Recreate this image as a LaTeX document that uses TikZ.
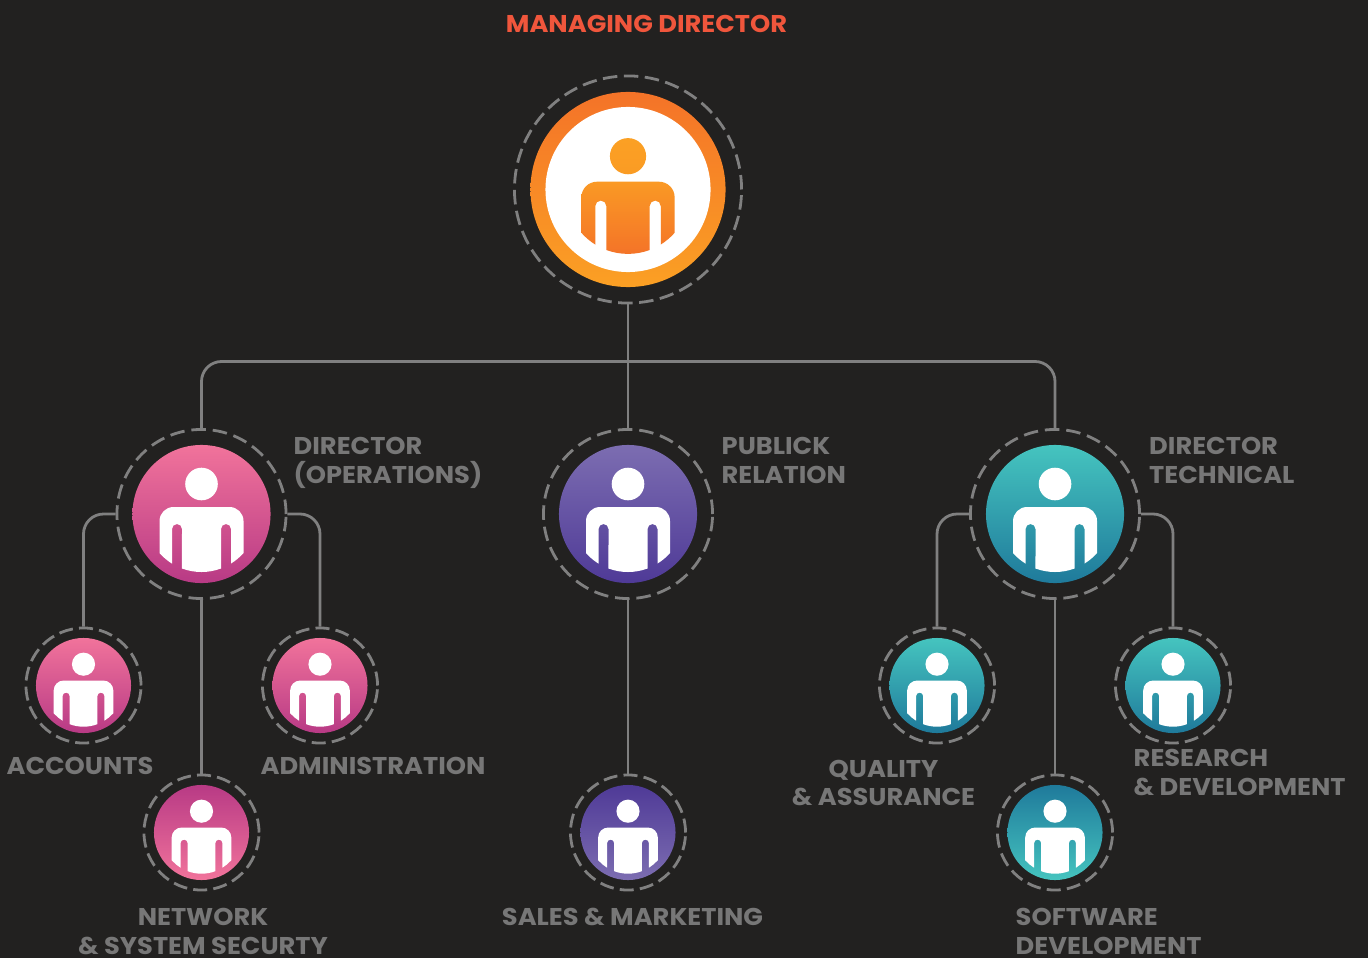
\documentclass[tikz,border=0pt]{standalone}
\usepackage{fontspec}
\setmainfont[FakeStretch=1.06]{Poppins}
\definecolor{bgdark}{HTML}{222120}
\definecolor{linkgray}{HTML}{808080}
\definecolor{labelgray}{HTML}{777777}
\definecolor{titlered}{HTML}{F0563C}
\definecolor{pinklight}{HTML}{F1739B}
\definecolor{pinkdark}{HTML}{B83A85}
\definecolor{purplelight}{HTML}{7C6DB1}
\definecolor{purpledark}{HTML}{4F3A97}
\definecolor{teallight}{HTML}{45C4BF}
\definecolor{tealdark}{HTML}{1F7A9B}
\definecolor{orangedark}{HTML}{F47328}
\definecolor{orangelight}{HTML}{FBA024}
\tikzset{
  ringbig/.style={circle,draw=linkgray,line width=0.028cm,minimum size=2.27cm,inner sep=0,dash pattern=on 0.145cm off 0.065cm},
  ringmid/.style={circle,draw=linkgray,line width=0.028cm,minimum size=1.69cm,inner sep=0,dash pattern=on 0.145cm off 0.069cm},
  ringsmall/.style={circle,draw=linkgray,line width=0.028cm,minimum size=1.15cm,inner sep=0,dash pattern=on 0.14cm off 0.062cm},
  diskmid/.style={circle,minimum size=1.38cm,inner sep=0},
  disksmall/.style={circle,minimum size=0.95cm,inner sep=0},
  link/.style={draw=linkgray,line width=0.028cm,rounded corners=0.2cm},
  lbl/.style={font=\fontsize{6.9pt}{8.1pt}\selectfont\bfseries,text=labelgray,inner sep=0,align=left},
  personhead/.style={fill=white},
  personbody/.style={fill=white},
  person/.pic={
    \path[personhead] (0,-30) circle (16.3);
    \path[personbody] (-42,39) -- (-42,7) arc[start angle=180,end angle=270,radius=14]
      -- (28,-7) arc[start angle=270,end angle=360,radius=14] -- (42,39)
      arc[start angle=41.4,end angle=58.2,radius=56] -- (29.5,15)
      arc[start angle=0,end angle=-180,radius=5] -- (19.5,54.5)
      arc[start angle=69.6,end angle=110.4,radius=56] -- (-19.5,15)
      arc[start angle=0,end angle=-180,radius=5] -- (-29.5,49.6)
      arc[start angle=121.8,end angle=138.6,radius=56] -- cycle;
  }
}
\begin{document}
\begin{tikzpicture}[x=0.01cm,y=-0.01cm]
\useasboundingbox (0,0) rectangle (1368,958);
\fill[bgdark] (0,0) rectangle (1368,958);
%managing director
\node[ringbig] (md) at (628,189.5) {};
\node[circle,minimum size=1.95cm,inner sep=0,top color=orangedark,bottom color=orangelight] (mdouter) at (md) {};
\node[circle,minimum size=1.65cm,inner sep=0,fill=white] (mdinner) at (md) {};
\pic[scale=1.11,personhead/.style={top color=orangelight,bottom color=orangelight!90!orangedark},personbody/.style={top color=orangelight!85!orangedark,bottom color=orangedark}] at (md) {person};
%directors
\node[ringmid] (dirops) at (201.5,514) {};
\node[diskmid,top color=pinklight,bottom color=pinkdark] (diropsdisk) at (dirops) {};
\pic at (dirops) {person};
\node[ringmid] (pubrel) at (628,514) {};
\node[diskmid,top color=purplelight,bottom color=purpledark] (pubreldisk) at (pubrel) {};
\pic at (pubrel) {person};
\node[ringmid] (dirtech) at (1055,514) {};
\node[diskmid,top color=teallight,bottom color=tealdark] (dirtechdisk) at (dirtech) {};
\pic at (dirtech) {person};
%left branch
\node[ringsmall] (acc) at (83.5,685.5) {};
\node[disksmall,top color=pinklight,bottom color=pinkdark] (accdisk) at (acc) {};
\pic[scale=0.71] at (acc) {person};
\node[ringsmall] (admin) at (320,685.5) {};
\node[disksmall,top color=pinklight,bottom color=pinkdark] (admindisk) at (admin) {};
\pic[scale=0.71] at (admin) {person};
\node[ringsmall] (net) at (201.5,832.5) {};
\node[disksmall,top color=pinkdark,bottom color=pinklight] (netdisk) at (net) {};
\pic[scale=0.71] at (net) {person};
%middle branch
\node[ringsmall] (sales) at (628,832.5) {};
\node[disksmall,top color=purpledark,bottom color=purplelight] (salesdisk) at (sales) {};
\pic[scale=0.71] at (sales) {person};
%right branch
\node[ringsmall] (qual) at (937,685.5) {};
\node[disksmall,top color=teallight,bottom color=tealdark] (qualdisk) at (qual) {};
\pic[scale=0.71] at (qual) {person};
\node[ringsmall] (res) at (1173,685.5) {};
\node[disksmall,top color=teallight,bottom color=tealdark] (resdisk) at (res) {};
\pic[scale=0.71] at (res) {person};
\node[ringsmall] (soft) at (1055,832.5) {};
\node[disksmall,top color=tealdark,bottom color=teallight] (softdisk) at (soft) {};
\pic[scale=0.71] at (soft) {person};
%connectors
\coordinate (bus) at (628,361.5);
\draw[link] (md.south) -- (pubrel.north);
\draw[link] (dirops.north) |- (bus) -| (dirtech.north);
\draw[link] (dirops.west) -| (acc.north);
\draw[link] (dirops.east) -| (admin.north);
\draw[link] (dirops.south) -- (net.north);
\draw[link] (pubrel.south) -- (sales.north);
\draw[link] (dirtech.west) -| (qual.north);
\draw[link] (dirtech.east) -| (res.north);
\draw[link] (dirtech.south) -- (soft.north);
%labels
\node[lbl,text=titlered,anchor=base] (mdlabel) at (646.5,32.5) {MANAGING DIRECTOR};
\node[lbl,anchor=west] (opslabel) at (293,463) {DIRECTOR\\(OPERATIONS)};
\node[lbl,anchor=west] (publabel) at (721,460.5) {PUBLICK\\RELATION};
\node[lbl,anchor=west] (techlabel) at (1148.5,460.5) {DIRECTOR\\TECHNICAL};
\node[lbl,anchor=base] (acclabel) at (80,774.5) {ACCOUNTS};
\node[lbl,anchor=base] (adminlabel) at (373,774.5) {ADMINISTRATION};
\node[lbl,align=center] (netlabel) at (203,931.5) {NETWORK\\\& SYSTEM SECURTY};
\node[lbl,anchor=base] (saleslabel) at (632.5,925) {SALES \& MARKETING};
\node[lbl,align=center] (quallabel) at (883.5,783) {QUALITY\\\& ASSURANCE};
\node[lbl,anchor=west] (reslabel) at (1133,772.5) {RESEARCH\\\& DEVELOPMENT};
\node[lbl,anchor=west] (softlabel) at (1015,931.5) {SOFTWARE\\DEVELOPMENT};
\end{tikzpicture}
\end{document}
